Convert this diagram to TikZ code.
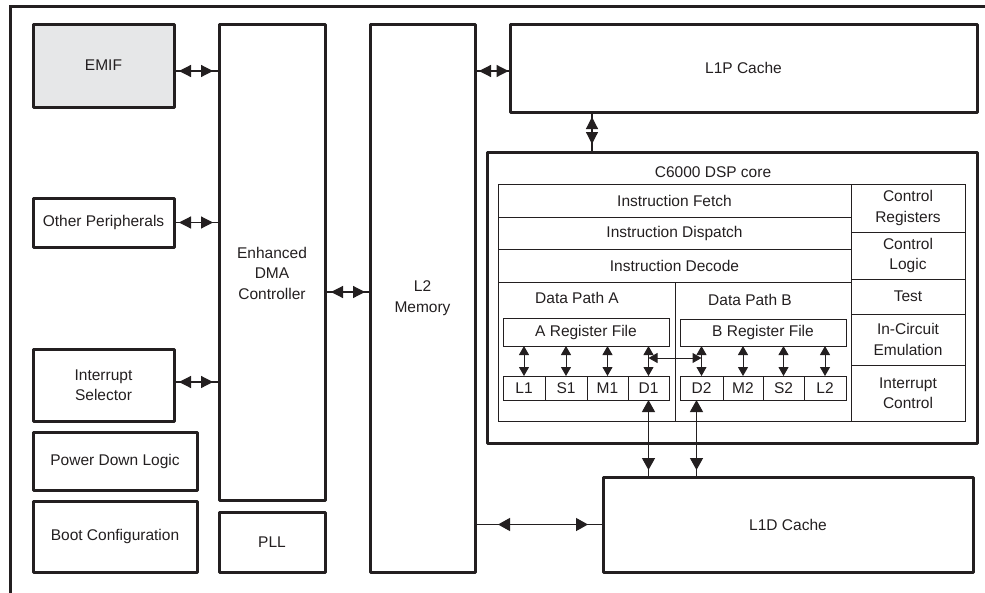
\documentclass[tikz,border=0pt]{standalone}
\usepackage{fontspec}
\setmainfont{Liberation Sans}
\usetikzlibrary{arrows.meta,calc}
\definecolor{ink}{HTML}{231F20}
\definecolor{emifgray}{HTML}{E6E7E8}
\begin{document}
\begin{tikzpicture}[x=1pt,y=-1pt,
  font=\fontsize{15.5}{20.5}\selectfont, text=ink,
  every node/.style={inner sep=0pt, outer sep=0pt, align=center},
  thickbox/.style={draw=ink, line width=3pt, line join=round, rectangle},
  thinbox/.style={draw=ink, line width=1pt, rectangle},
  link/.style={draw=ink, line width=1.2pt},
  bigarr/.style={draw=ink, line width=1.2pt, {Triangle[length=12pt,width=12pt]}-{Triangle[length=12pt,width=12pt]}},
  midarr/.style={draw=ink, line width=1.2pt, {Triangle[length=12pt,width=13pt]}-{Triangle[length=12pt,width=13pt]}},
  smallarr/.style={draw=ink, line width=1pt, {Triangle[length=9pt,width=10pt]}-{Triangle[length=9pt,width=10pt]}}
]
\useasboundingbox (0,0) rectangle (985,592);
\clip (0,0) rectangle (985,592);
\draw[line width=3pt, draw=ink] (10,6.5) rectangle (1000,600);

% left column
\node[thickbox, fill=emifgray, minimum width=141pt, minimum height=83pt] (emif) at (103.5,65.5) {EMIF};
\node[thickbox, minimum width=141pt, minimum height=49pt] (oth) at (103.5,222.5) {Other Peripherals};
\node[thickbox, minimum width=141pt, minimum height=72pt] (isel) at (103.5,385) {Interrupt\\Selector};
\node[thickbox, minimum width=164pt, minimum height=58pt] (pdl) at (115,461) {Power Down Logic};
\node[thickbox, minimum width=164pt, minimum height=71pt] (boot) at (115,536.5) {Boot Configuration};

% DMA, PLL, L2
\node[thickbox, minimum width=106pt, minimum height=476pt] (dma) at (272,262) {};
\node (dmatxt) at (272,273) {Enhanced\\DMA\\Controller};
\node[thickbox, minimum width=106pt, minimum height=60pt] (pll) at (272,542) {PLL};
\node[thickbox, minimum width=105pt, minimum height=548pt] (l2) at (422.5,298) {L2\\Memory};

% L1P, core, L1D
\node[thickbox, minimum width=467pt, minimum height=88pt] (l1p) at (743.5,68) {L1P Cache};
\node[thickbox, minimum width=490pt, minimum height=291pt] (core) at (732,297.5) {};
\node (coretxt) at (713,172) {C6000 DSP core};
\node[thickbox, minimum width=370pt, minimum height=95pt] (l1d) at (788,524.5) {L1D Cache};

% core internals
\node[thinbox, minimum width=353pt, minimum height=33pt] (fetch) at (674.5,200.5) {Instruction Fetch};
\node[thinbox, minimum width=353pt, minimum height=32pt] (disp) at (674.5,233) {Instruction Dispatch};
\node[thinbox, minimum width=353pt, minimum height=33pt] (dec) at (674.5,265.5) {Instruction Decode};
\node[thinbox, minimum width=114pt, minimum height=48pt] (creg) at (908,208) {Control\\Registers};
\node[thinbox, minimum width=114pt, minimum height=47pt] (clog) at (908,255.5) {Control\\Logic};
\node[thinbox, minimum width=114pt, minimum height=35pt] (test) at (908,296.5) {Test};
\node[thinbox, minimum width=114pt, minimum height=51pt] (ice) at (908,339.5) {In-Circuit\\Emulation};
\node[thinbox, minimum width=114pt, minimum height=56pt] (ictl) at (908,393) {Interrupt\\Control};
\node[thinbox, minimum width=177pt, minimum height=139pt] (dpa) at (586.5,351.5) {};
\node[thinbox, minimum width=176pt, minimum height=139pt] (dpb) at (763,351.5) {};
\node (dpatxt) at (577,298) {Data Path A};
\node (dpbtxt) at (750,300) {Data Path B};
\node[thinbox, minimum width=166pt, minimum height=28pt] (arf) at (586,332) {A Register File};
\node[thinbox, minimum width=166pt, minimum height=27pt] (brf) at (763,332.5) {B Register File};
\node[thinbox, minimum width=42pt, minimum height=24pt] (ul1) at (524,388) {L1};
\node[thinbox, minimum width=42pt, minimum height=24pt] (us1) at (566,388) {S1};
\node[thinbox, minimum width=41pt, minimum height=24pt] (um1) at (607.5,388) {M1};
\node[thinbox, minimum width=41pt, minimum height=24pt] (ud1) at (648.5,388) {D1};
\node[thinbox, minimum width=43pt, minimum height=24pt] (ud2) at (701.5,388) {D2};
\node[thinbox, minimum width=40pt, minimum height=24pt] (um2) at (743,388) {M2};
\node[thinbox, minimum width=41pt, minimum height=24pt] (us2) at (783.5,388) {S2};
\node[thinbox, minimum width=42pt, minimum height=24pt] (ul2) at (825,388) {L2};

% connectors left side
\coordinate (a1) at ([yshift=-5.5pt]emif.east);
\draw[link] (a1) -- (a1 -| dma.west);
\draw[bigarr, shorten <=5pt, shorten >=6pt] (a1) -- (a1 -| dma.west);
\draw[link] (oth.east) -- (oth.east -| dma.west);
\draw[bigarr, shorten <=5pt, shorten >=6pt] (oth.east) -- (oth.east -| dma.west);
\coordinate (a3) at ([yshift=3pt]isel.east);
\draw[link] (a3) -- (a3 -| dma.west);
\draw[bigarr, shorten <=5pt, shorten >=6pt] (a3) -- (a3 -| dma.west);
\coordinate (a4) at ([yshift=-30pt]dma.east);
\draw[link] (a4) -- (a4 -| l2.west);
\draw[bigarr, shorten <=6pt, shorten >=5pt] (a4) -- (a4 -| l2.west);
\coordinate (a5) at ([yshift=-3pt]l1p.west);
\draw[link] (a5 -| l2.east) -- (a5);
\draw[bigarr, shorten <=4pt, shorten >=1.5pt] (a5 -| l2.east) -- (a5);
\coordinate (a6) at ([xshift=105pt]core.north west);
\draw[link] (a6 |- l1p.south) -- (a6);
\draw[bigarr, shorten <=5pt, shorten >=8pt] (a6 |- l1p.south) -- (a6);
\draw[link] (l1d.west -| l2.east) -- (l1d.west);
\draw[midarr, shorten <=23pt, shorten >=15pt] (l1d.west -| l2.east) -- (l1d.west);

% register file to units
\foreach \u in {ul1,us1,um1,ud1}{
  \draw[smallarr] (\u.north |- arf.south) -- (\u.north);
}
\foreach \u in {ud2,um2,us2,ul2}{
  \draw[smallarr] (\u.north |- brf.south) -- (\u.north);
}
\draw[smallarr] ($(ud1.north |- arf.south)+(0,12)$) -- ($(ud2.north |- brf.south)+(0,12)$);

% D units to L1D
\draw[link] (ud1.south) -- (ud1.south |- l1d.north);
\draw[midarr, shorten >=7pt] (ud1.south) -- (ud1.south |- l1d.north);
\coordinate (c2) at ([xshift=-5pt]ud2.south);
\draw[link] (c2) -- (c2 |- l1d.north);
\draw[midarr, shorten >=7pt] (c2) -- (c2 |- l1d.north);
\end{tikzpicture}
\end{document}
